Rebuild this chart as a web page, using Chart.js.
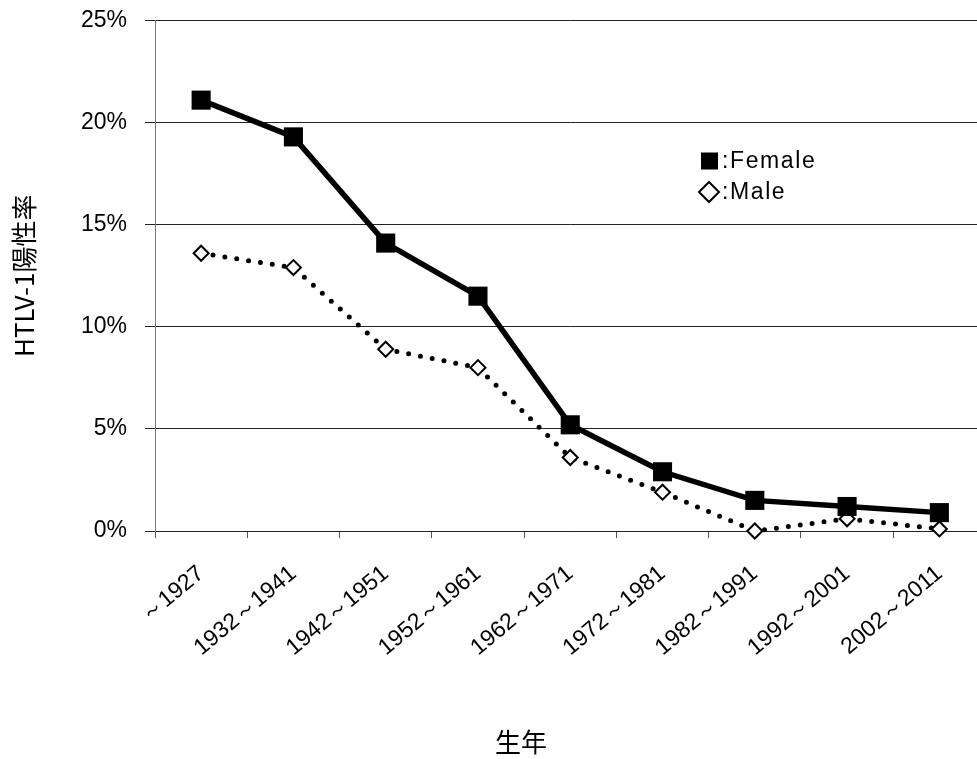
<!DOCTYPE html>
<html><head><meta charset="utf-8">
<script src="https://cdn.jsdelivr.net/npm/chart.js@4/dist/chart.umd.min.js"></script>
<style>
html,body{margin:0;padding:0;overflow:hidden;background:#fff;width:977px;height:759px}
#wrap{position:absolute;left:0;top:0;width:999px;height:759px}
</style>
</head><body><div id="wrap"><canvas id="c" width="999" height="759"></canvas></div>
<script>
const categories = ['～1927','1932～1941','1942～1951','1952～1961','1962～1971','1972～1981','1982～1991','1992～2001','2002～2011'];
const femaleValues = [21.1, 19.3, 14.1, 11.5, 5.2, 2.9, 1.5, 1.2, 0.9];
const maleValues = [13.6, 12.9, 8.9, 8.0, 3.6, 1.9, 0.0, 0.6, 0.1];
const yTickValues = [0, 5, 10, 15, 20, 25];
const seriesNames = ['Female', 'Male'];
const xTitle = '生年';
const yTitle = 'HTLV-1陽性率';

const latin = '"Liberation Sans", Arial, sans-serif';
const cjk = '"Noto Sans CJK JP", "Liberation Sans", sans-serif';

const overlay = {
  id: 'overlay',
  afterDraw(chart) {
    const ctx = chart.ctx;
    ctx.save();
    // legend
    ctx.fillStyle = '#000';
    ctx.fillRect(701, 152.5, 17, 17);
    ctx.beginPath();
    ctx.moveTo(709, 182); ctx.lineTo(719, 192); ctx.lineTo(709, 202); ctx.lineTo(699, 192); ctx.closePath();
    ctx.fillStyle = '#fff'; ctx.fill();
    ctx.lineWidth = 2; ctx.strokeStyle = '#000'; ctx.stroke();
    ctx.fillStyle = '#000';
    ctx.font = '23px ' + latin;
    if ('letterSpacing' in ctx) ctx.letterSpacing = '1.6px';
    ctx.textBaseline = 'middle';
    ctx.textAlign = 'left';
    ctx.fillText(':' + seriesNames[0], 722, 162);
    ctx.fillText(':' + seriesNames[1], 722, 193);
    if ('letterSpacing' in ctx) ctx.letterSpacing = '0px';
    // x title
    ctx.font = '26px ' + cjk;
    ctx.textAlign = 'center';
    ctx.fillText(xTitle, 521, 742);
    ctx.restore();
  }
};

new Chart(document.getElementById('c'), {
  type: 'line',
  data: {
    labels: categories,
    datasets: [
      {
        label: seriesNames[0], data: femaleValues,
        borderColor: '#000', backgroundColor: '#000', borderWidth: 5.5,
        pointStyle: 'rect', pointRadius: 13.5, pointBorderWidth: 0,
        pointBackgroundColor: '#000', tension: 0, clip: false
      },
      {
        label: seriesNames[1], data: maleValues,
        borderColor: '#000', backgroundColor: '#fff', borderWidth: 5,
        borderDash: [0, 12], borderCapStyle: 'round',
        pointStyle: 'rectRot', pointRadius: 7.5, pointBorderWidth: 2,
        pointBackgroundColor: '#fff', pointBorderColor: '#000', tension: 0, clip: false
      }
    ]
  },
  options: {
    responsive: false,
    animation: false,
    layout: { padding: { top: 20.5, right: 5, bottom: 0, left: 0 } },
    plugins: { legend: { display: false }, tooltip: { enabled: false } },
    scales: {
      x: {
        type: 'category', offset: true,
        grid: { drawOnChartArea: false, drawTicks: true, tickLength: 7, color: '#555', offset: true },
        border: { display: true, color: '#222' },
        ticks: { autoSkip: false, maxRotation: 40, minRotation: 40, color: '#000', font: { family: latin, size: 23 }, padding: 22 },
        afterFit(scale) { scale.height = 228; scale.paddingLeft = 0; scale.paddingRight = 0; }
      },
      y: {
        min: 0, max: 25,
        afterBuildTicks(scale) { scale.ticks = yTickValues.map(v => ({ value: v })); },
        grid: { color: '#222', lineWidth: 1, tickLength: 10 },
        border: { display: true, color: '#777' },
        ticks: { color: '#000', font: { family: latin, size: 23 }, padding: 18, callback: v => v + '%' },
        title: { display: true, text: yTitle, color: '#000', font: { family: cjk, size: 26 }, padding: { top: 9, bottom: 0 } },
        afterFit(scale) { scale.width = 155; scale.paddingTop = 0; scale.paddingBottom = 0; }
      }
    }
  },
  plugins: [overlay]
});
</script>
</body></html>
